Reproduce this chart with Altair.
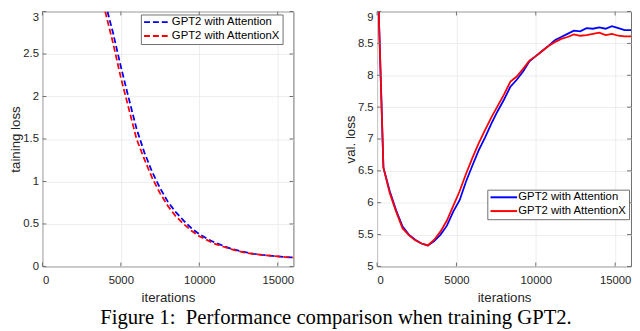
import altair as alt
import pandas as pd

SERIES = ["GPT2 with Attention", "GPT2 with AttentionX"]
COLORS = ["#0000ff", "#ff0000"]

# Training loss (left panel)
train_iters = [4000, 4500, 5000, 5500, 6000, 6500, 7000, 7500, 8000, 8500, 9000, 9500,
               10000, 10500, 11000, 11500, 12000, 12500, 13000, 13500, 14000, 14500,
               15000, 15500, 16000]
train_attn = [3.10, 2.75, 2.35, 1.98, 1.62, 1.34, 1.11, 0.92, 0.76, 0.64, 0.54, 0.45,
              0.38, 0.325, 0.28, 0.245, 0.21, 0.185, 0.165, 0.148, 0.136, 0.127,
              0.119, 0.111, 0.106]
train_attnx = [3.00, 2.63, 2.22, 1.86, 1.50, 1.26, 1.04, 0.86, 0.71, 0.59, 0.50, 0.42,
               0.355, 0.31, 0.265, 0.235, 0.205, 0.18, 0.16, 0.145, 0.135, 0.126,
               0.118, 0.11, 0.105]

# Validation loss (right panel)
val_iters = [0, 400, 800, 1200, 1600, 2000, 2400, 2800, 3200, 3600, 4000, 4400, 4800,
             5200, 5600, 6000, 6400, 6800, 7200, 7600, 8000, 8400, 8800, 9200, 9600,
             10000, 10400, 10800, 11200, 11600, 12000, 12400, 12800, 13200, 13600,
             14000, 14400, 14800, 15200, 15600, 16000]
val_attn = [9.85, 6.55, 6.18, 5.88, 5.63, 5.50, 5.42, 5.36, 5.33, 5.40, 5.50, 5.64, 5.86,
            6.04, 6.33, 6.58, 6.82, 7.02, 7.24, 7.44, 7.62, 7.82, 7.93, 8.06, 8.22,
            8.30, 8.38, 8.46, 8.55, 8.60, 8.65, 8.70, 8.69, 8.74, 8.73,
            8.75, 8.73, 8.77, 8.74, 8.71, 8.71]
val_attnx = [9.85, 6.55, 6.15, 5.86, 5.60, 5.49, 5.41, 5.36, 5.33, 5.42, 5.55, 5.72, 5.95,
             6.18, 6.45, 6.70, 6.93, 7.14, 7.34, 7.52, 7.70, 7.90, 7.98, 8.10, 8.23,
             8.30, 8.38, 8.46, 8.52, 8.57, 8.60, 8.64, 8.62, 8.63, 8.65,
             8.67, 8.63, 8.65, 8.62, 8.61, 8.61]

x_ticks = [0, 5000, 10000, 15000]
train_y_ticks = [0, 0.5, 1, 1.5, 2, 2.5, 3]
val_y_ticks = [5, 5.5, 6, 6.5, 7, 7.5, 8, 8.5, 9]

CAPTION = "Figure 1:\u00a0\u00a0Performance comparison when training GPT2."

FRAME = "#6e6e6e"
LABEL_FONT = "Liberation Sans"


def long_df(iters, a, b):
    return pd.DataFrame({
        "iter": list(iters) + list(iters),
        "loss": list(a) + list(b),
        "series": [SERIES[0]] * len(a) + [SERIES[1]] * len(b),
    })


def panel(df, ydom, yticks, ytitle, W, H, lx, ly, dashed):
    xs = alt.Scale(domain=[0, 16000], nice=False, zero=False)
    ys = alt.Scale(domain=ydom, nice=False, zero=False)
    top_val = ydom[1]
    X = alt.X("iter:Q", scale=xs, title="iterations",
              axis=alt.Axis(values=x_ticks, format="d", labelPadding=8, titlePadding=5))
    Y = alt.Y("loss:Q", scale=ys, title=ytitle,
              axis=alt.Axis(values=yticks, format="~g", titlePadding=0, labelPadding=4,
                            labelBaseline={"condition": {"test": f"datum.value == {top_val}",
                                                         "value": "top"},
                                           "value": "middle"}))
    legend_kw = dict(
        title=None, orient="none", legendX=lx, legendY=ly,
        symbolType="M-1,0H5", symbolSize=81, symbolStrokeWidth=2,
        labelFont=LABEL_FONT, labelFontSize=11.5, labelColor="#000000",
        labelOffset=18, strokeColor=FRAME, fillColor="white",
        padding=2, rowPadding=1, symbolFillColor="transparent",
    )
    mark_kw = dict(clip=True, strokeWidth=1.8)
    if dashed:
        legend_kw["symbolDash"] = [6, 3]
        mark_kw["strokeDash"] = [6, 3]
    lines = alt.Chart(df).mark_line(**mark_kw).encode(
        x=X, y=Y,
        color=alt.Color("series:N", scale=alt.Scale(domain=SERIES, range=COLORS),
                        legend=alt.Legend(**legend_kw)),
    )
    xt = pd.DataFrame({"iter": x_ticks})
    yt = pd.DataFrame({"loss": yticks})
    tk = dict(color=FRAME, strokeWidth=1)
    top_t = alt.Chart(xt).mark_rule(**tk).encode(x=X, y=alt.value(0), y2=alt.value(4))
    bot_t = alt.Chart(xt).mark_rule(**tk).encode(x=X, y=alt.value(H), y2=alt.value(H - 4))
    left_t = alt.Chart(yt).mark_rule(**tk).encode(y=Y, x=alt.value(0), x2=alt.value(4))
    right_t = alt.Chart(yt).mark_rule(**tk).encode(y=Y, x=alt.value(W), x2=alt.value(W - 4))
    return alt.layer(lines, top_t, bot_t, left_t, right_t).properties(width=W, height=H)


left = panel(long_df(train_iters, train_attn, train_attnx), [0, 3], train_y_ticks,
             "taining loss", 255, 259, 100, 3, True)
right = panel(long_df(val_iters, val_attn, val_attnx), [5, 9], val_y_ticks,
              "val. loss", 258, 259, 112, 181, False)

chart = alt.hconcat(left, right, spacing=49).resolve_scale(
    color="independent"
).resolve_legend(color="independent").properties(
    title=alt.TitleParams(text=CAPTION, orient="bottom", anchor="middle",
                          font="Liberation Serif", fontSize=21, fontWeight="normal",
                          color="#000000", offset=3, dx=16),
    padding={"left": 0, "top": 0, "right": 0, "bottom": 0},
).configure_view(stroke=FRAME, strokeWidth=1).configure_axis(
    grid=True, gridColor="#e8e8e8", gridWidth=0.8, ticks=False, domain=False,
    labelFont=LABEL_FONT, labelFontSize=11.5, labelColor="#262626",
    titleFont=LABEL_FONT, titleFontSize=13.5, titleFontWeight="normal", titleColor="#262626",
)

chart.save("out.html", embed_options={"renderer": "svg", "actions": False})
